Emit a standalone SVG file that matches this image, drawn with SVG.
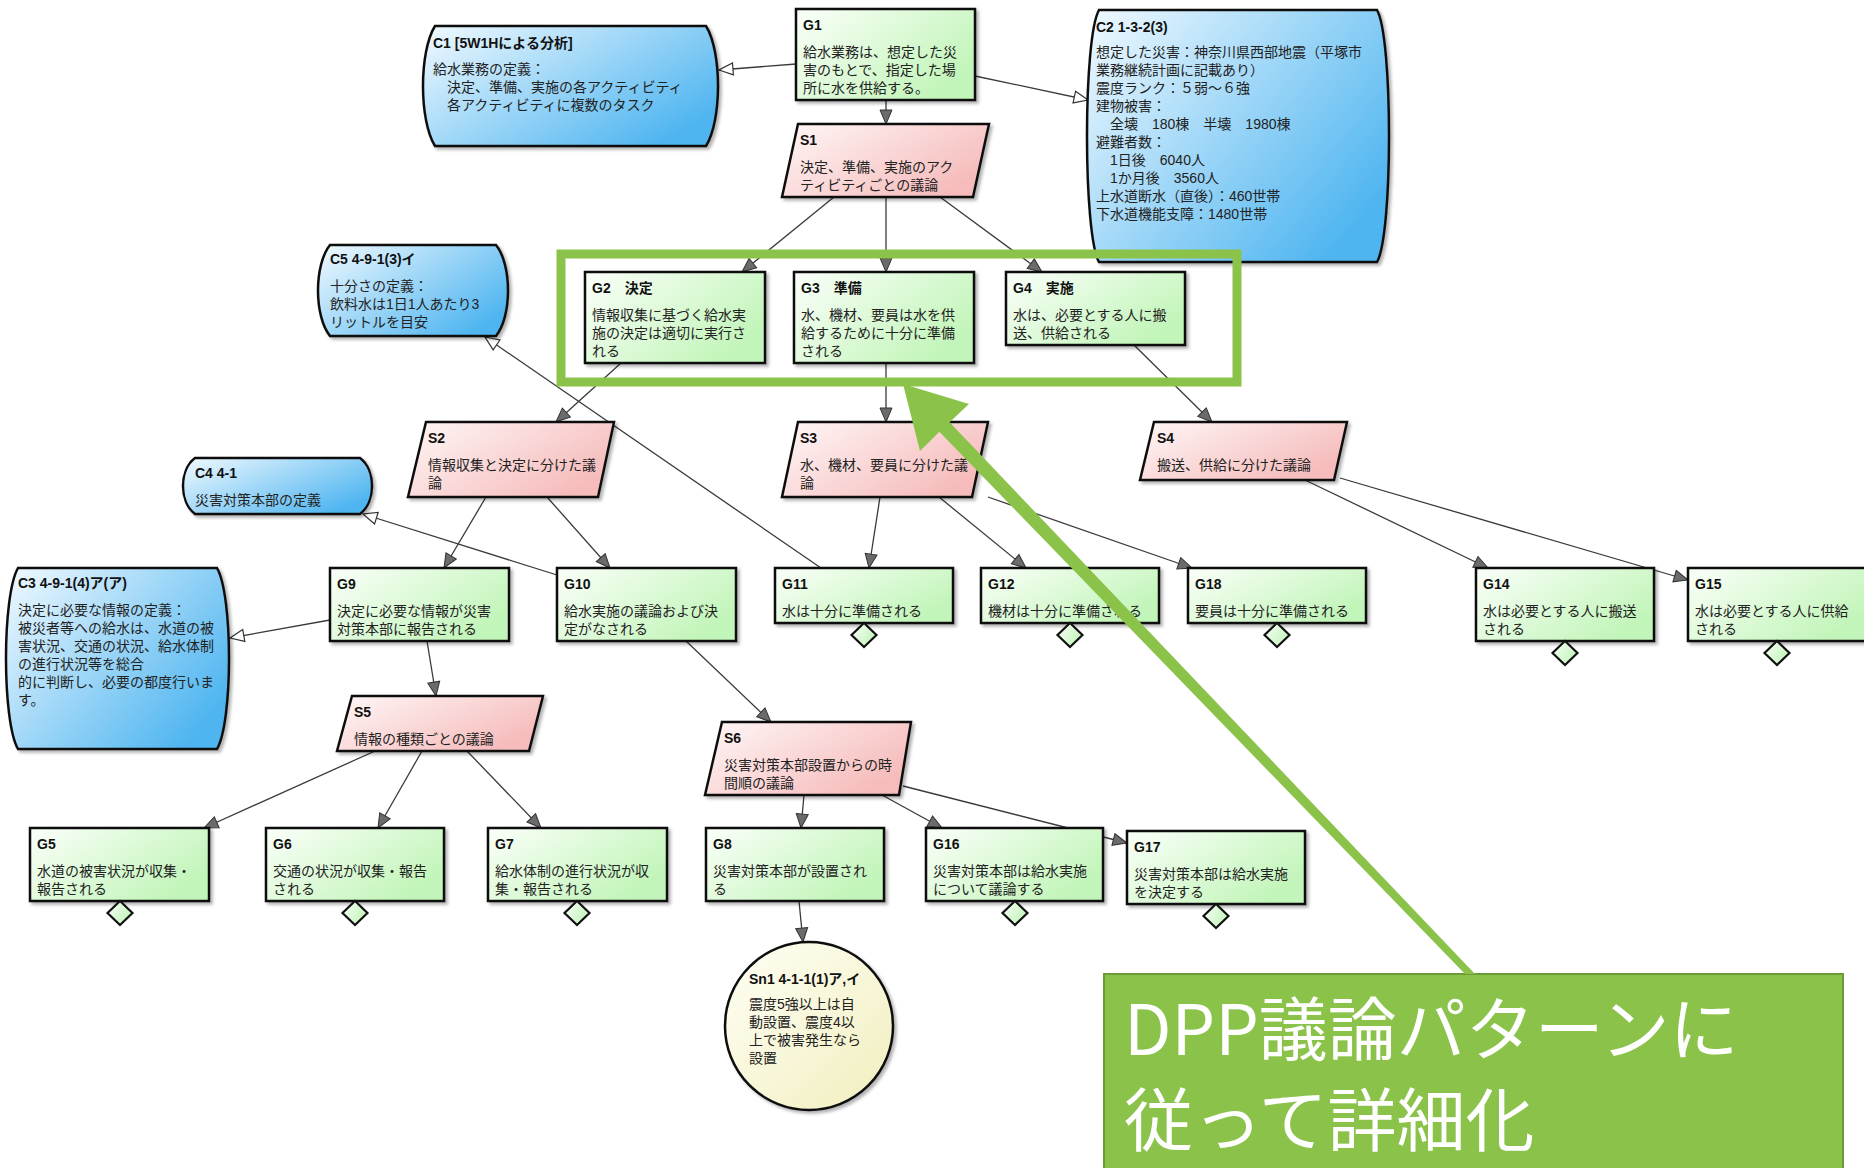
<svg xmlns="http://www.w3.org/2000/svg" width="1864" height="1168" viewBox="0 0 1864 1168">
<defs>
<style>
.t{font-family:'Liberation Sans','Noto Sans CJK JP',sans-serif;font-size:14px;fill:#222}
.id{font-weight:bold;fill:#111}
.g{fill:url(#gG);stroke:#111;stroke-width:2.5;filter:url(#sh)}
.s{fill:url(#gS);stroke:#111;stroke-width:2.5;filter:url(#sh)}
.c{fill:url(#gC);stroke:#111;stroke-width:2.5;filter:url(#sh)}
.sn{fill:url(#gSn);stroke:#111;stroke-width:2.5;filter:url(#sh)}
.d{fill:url(#gG);stroke:#111;stroke-width:2.2}
.ln{fill:none;stroke:#3a3a3a;stroke-width:1.3}
.sup{marker-end:url(#ah)}
.ctx{marker-end:url(#ahw)}
.big{font-family:'Noto Sans CJK JP',sans-serif;font-size:69px;fill:#fff}
</style>
<linearGradient id="gG" x1="0" y1="0" x2="1" y2="0.6"><stop offset="0" stop-color="#fbfffa"/><stop offset="1" stop-color="#c2f5b9"/></linearGradient>
<linearGradient id="gS" x1="0" y1="0" x2="1" y2="0.6"><stop offset="0" stop-color="#fff7f7"/><stop offset="1" stop-color="#f6bcbc"/></linearGradient>
<linearGradient id="gC" x1="0" y1="0" x2="1" y2="0.7"><stop offset="0" stop-color="#f2faff"/><stop offset="1" stop-color="#4fb5f0"/></linearGradient>
<linearGradient id="gSn" x1="0" y1="0" x2="1" y2="1"><stop offset="0" stop-color="#fffff6"/><stop offset="1" stop-color="#f1eebd"/></linearGradient>
<filter id="sh" x="-5%" y="-5%" width="112%" height="115%"><feDropShadow dx="2.5" dy="2.5" stdDeviation="1.5" flood-color="#000" flood-opacity="0.3"/></filter>
<marker id="ah" markerUnits="userSpaceOnUse" markerWidth="16" markerHeight="14" refX="14" refY="6" orient="auto" overflow="visible"><path d="M0,0 L14,6 L0,12 Z" fill="#6b6b6b" stroke="#333" stroke-width="1"/></marker>
<marker id="ahw" markerUnits="userSpaceOnUse" markerWidth="16" markerHeight="14" refX="14" refY="6" orient="auto" overflow="visible"><path d="M0,0 L14,6 L0,12 Z" fill="#fff" stroke="#333" stroke-width="1.2"/></marker>
</defs>
<rect width="1864" height="1168" fill="#fff"/>

<g id="connectors">
<line class="ln ctx" x1="796" y1="64" x2="719" y2="70"/>
<line class="ln ctx" x1="975" y1="76" x2="1088" y2="100"/>
<line class="ln sup" x1="886" y1="100" x2="886" y2="124"/>
<line class="ln sup" x1="834" y1="197" x2="742" y2="272"/>
<line class="ln sup" x1="886" y1="197" x2="886" y2="272"/>
<line class="ln sup" x1="940" y1="197" x2="1042" y2="272"/>
<line class="ln sup" x1="621" y1="363" x2="556" y2="422"/>
<line class="ln sup" x1="886" y1="363" x2="886" y2="422"/>
<line class="ln sup" x1="1134" y1="345" x2="1212" y2="422"/>
<line class="ln ctx" x1="821" y1="568" x2="485" y2="337"/>
<line class="ln ctx" x1="557" y1="575" x2="363" y2="514"/>
<line class="ln sup" x1="486" y1="497" x2="444" y2="568"/>
<line class="ln sup" x1="547" y1="497" x2="610" y2="568"/>
<line class="ln ctx" x1="330" y1="620" x2="230" y2="638"/>
<line class="ln sup" x1="427" y1="641" x2="436" y2="696"/>
<line class="ln sup" x1="686" y1="641" x2="771" y2="722"/>
<line class="ln sup" x1="880" y1="497" x2="869" y2="568"/>
<line class="ln sup" x1="939" y1="497" x2="1026" y2="568"/>
<line class="ln sup" x1="988" y1="497" x2="1192" y2="568"/>
<line class="ln sup" x1="1305" y1="480" x2="1488" y2="568"/>
<line class="ln sup" x1="1340" y1="478" x2="1688" y2="580"/>
<line class="ln sup" x1="375" y1="751" x2="204" y2="828"/>
<line class="ln sup" x1="422" y1="751" x2="378" y2="828"/>
<line class="ln sup" x1="467" y1="751" x2="541" y2="828"/>
<line class="ln sup" x1="804" y1="795" x2="801" y2="828"/>
<line class="ln sup" x1="882" y1="795" x2="942" y2="828"/>
<line class="ln sup" x1="903" y1="786" x2="1127" y2="843"/>
<line class="ln sup" x1="799" y1="901" x2="803" y2="942"/>
</g>

<g id="C1">
<path class="c" d="M435,26 H706 C722,52 722,120 706,146 H435 C419,120 419,52 435,26 Z"/>
<text class="t id" x="433" y="48">C1 [5W1Hによる分析]</text>
<text class="t" x="433" y="74">給水業務の定義：</text>
<text class="t" x="447" y="92">決定、準備、実施の各アクティビティ</text>
<text class="t" x="447" y="110">各アクティビティに複数のタスク</text>
</g>

<g id="G1">
<rect class="g" x="796" y="9" width="179" height="91"/>
<text class="t id" x="803" y="30">G1</text>
<text class="t" x="803" y="57">給水業務は、想定した災</text>
<text class="t" x="803" y="75">害のもとで、指定した場</text>
<text class="t" x="803" y="93">所に水を供給する。</text>
</g>

<g id="C2">
<path class="c" d="M1099,10 H1377 C1393,38 1393,234 1377,262 H1099 C1083,234 1083,38 1099,10 Z"/>
<text class="t id" x="1096" y="32">C2 1-3-2(3)</text>
<text class="t" x="1096" y="57">想定した災害：神奈川県西部地震（平塚市</text>
<text class="t" x="1096" y="75">業務継続計画に記載あり）</text>
<text class="t" x="1096" y="93">震度ランク：５弱～６強</text>
<text class="t" x="1096" y="111">建物被害：</text>
<text class="t" x="1110" y="129">全壊　180棟　半壊　1980棟</text>
<text class="t" x="1096" y="147">避難者数：</text>
<text class="t" x="1110" y="165">1日後　6040人</text>
<text class="t" x="1110" y="183">1か月後　3560人</text>
<text class="t" x="1096" y="201">上水道断水（直後）：460世帯</text>
<text class="t" x="1096" y="219">下水道機能支障：1480世帯</text>
</g>

<g id="S1">
<polygon class="s" points="798,124 989,124 973,197 782,197"/>
<text class="t id" x="800" y="145">S1</text>
<text class="t" x="800" y="172">決定、準備、実施のアク</text>
<text class="t" x="800" y="190">ティビティごとの議論</text>
</g>

<g id="C5">
<path class="c" d="M330,245 H496 C512,265 512,316 496,336 H330 C314,316 314,265 330,245 Z"/>
<text class="t id" x="330" y="264">C5 4-9-1(3)イ</text>
<text class="t" x="330" y="291">十分さの定義：</text>
<text class="t" x="330" y="309">飲料水は1日1人あたり3</text>
<text class="t" x="330" y="327">リットルを目安</text>
</g>

<g id="G2">
<rect class="g" x="585" y="272" width="180" height="91"/>
<text class="t id" x="592" y="293">G2　決定</text>
<text class="t" x="592" y="320">情報収集に基づく給水実</text>
<text class="t" x="592" y="338">施の決定は適切に実行さ</text>
<text class="t" x="592" y="356">れる</text>
</g>

<g id="G3">
<rect class="g" x="794" y="272" width="180" height="91"/>
<text class="t id" x="801" y="293">G3　準備</text>
<text class="t" x="801" y="320">水、機材、要員は水を供</text>
<text class="t" x="801" y="338">給するために十分に準備</text>
<text class="t" x="801" y="356">される</text>
</g>

<g id="G4">
<rect class="g" x="1006" y="272" width="179" height="73"/>
<text class="t id" x="1013" y="293">G4　実施</text>
<text class="t" x="1013" y="320">水は、必要とする人に搬</text>
<text class="t" x="1013" y="338">送、供給される</text>
</g>

<g id="S2">
<polygon class="s" points="426,422 614,422 598,497 408,497"/>
<text class="t id" x="428" y="443">S2</text>
<text class="t" x="428" y="470">情報収集と決定に分けた議</text>
<text class="t" x="428" y="488">論</text>
</g>

<g id="S3">
<polygon class="s" points="798,422 988,422 972,497 782,497"/>
<text class="t id" x="800" y="443">S3</text>
<text class="t" x="800" y="470">水、機材、要員に分けた議</text>
<text class="t" x="800" y="488">論</text>
</g>

<g id="S4">
<polygon class="s" points="1154,422 1347,422 1334,480 1140,480"/>
<text class="t id" x="1157" y="443">S4</text>
<text class="t" x="1157" y="470">搬送、供給に分けた議論</text>
</g>

<g id="C4">
<path class="c" d="M195,458 H360 C376,470 376,502 360,514 H195 C179,502 179,470 195,458 Z"/>
<text class="t id" x="195" y="478">C4 4-1</text>
<text class="t" x="195" y="505">災害対策本部の定義</text>
</g>

<g id="C3">
<path class="c" d="M18,568 H217 C233,596 233,721 217,749 H18 C2,721 2,596 18,568 Z"/>
<text class="t id" x="18" y="588">C3 4-9-1(4)ア(ア)</text>
<text class="t" x="18" y="615">決定に必要な情報の定義：</text>
<text class="t" x="18" y="633">被災者等への給水は、水道の被</text>
<text class="t" x="18" y="651">害状況、交通の状況、給水体制</text>
<text class="t" x="18" y="669">の進行状況等を総合</text>
<text class="t" x="18" y="687">的に判断し、必要の都度行いま</text>
<text class="t" x="18" y="705">す。</text>
</g>

<g id="G9">
<rect class="g" x="330" y="568" width="179" height="73"/>
<text class="t id" x="337" y="589">G9</text>
<text class="t" x="337" y="616">決定に必要な情報が災害</text>
<text class="t" x="337" y="634">対策本部に報告される</text>
</g>

<g id="G10">
<rect class="g" x="557" y="568" width="179" height="73"/>
<text class="t id" x="564" y="589">G10</text>
<text class="t" x="564" y="616">給水実施の議論および決</text>
<text class="t" x="564" y="634">定がなされる</text>
</g>

<g id="G11">
<rect class="g" x="775" y="568" width="178" height="55"/>
<text class="t id" x="782" y="589">G11</text>
<text class="t" x="782" y="616">水は十分に準備される</text>
<polygon class="d" points="864,623 876.5,635 864,647 851.5,635"/>
</g>

<g id="G12">
<rect class="g" x="981" y="568" width="178" height="55"/>
<text class="t id" x="988" y="589">G12</text>
<text class="t" x="988" y="616">機材は十分に準備される</text>
<polygon class="d" points="1070,623 1082.5,635 1070,647 1057.5,635"/>
</g>

<g id="G18">
<rect class="g" x="1188" y="568" width="178" height="55"/>
<text class="t id" x="1195" y="589">G18</text>
<text class="t" x="1195" y="616">要員は十分に準備される</text>
<polygon class="d" points="1277,623 1289.5,635 1277,647 1264.5,635"/>
</g>

<g id="G14">
<rect class="g" x="1476" y="568" width="178" height="73"/>
<text class="t id" x="1483" y="589">G14</text>
<text class="t" x="1483" y="616">水は必要とする人に搬送</text>
<text class="t" x="1483" y="634">される</text>
<polygon class="d" points="1565,641 1577.5,653 1565,665 1552.5,653"/>
</g>

<g id="G15">
<rect class="g" x="1688" y="568" width="180" height="73"/>
<text class="t id" x="1695" y="589">G15</text>
<text class="t" x="1695" y="616">水は必要とする人に供給</text>
<text class="t" x="1695" y="634">される</text>
<polygon class="d" points="1777,641 1789.5,653 1777,665 1764.5,653"/>
</g>

<g id="S5">
<polygon class="s" points="352,696 543,696 529,751 337,751"/>
<text class="t id" x="354" y="717">S5</text>
<text class="t" x="354" y="744">情報の種類ごとの議論</text>
</g>

<g id="S6">
<polygon class="s" points="722,722 911,722 899,795 705,795"/>
<text class="t id" x="724" y="743">S6</text>
<text class="t" x="724" y="770">災害対策本部設置からの時</text>
<text class="t" x="724" y="788">間順の議論</text>
</g>

<g id="G5">
<rect class="g" x="30" y="828" width="179" height="73"/>
<text class="t id" x="37" y="849">G5</text>
<text class="t" x="37" y="876">水道の被害状況が収集・</text>
<text class="t" x="37" y="894">報告される</text>
<polygon class="d" points="120,901 132.5,913 120,925 107.5,913"/>
</g>

<g id="G6">
<rect class="g" x="266" y="828" width="178" height="73"/>
<text class="t id" x="273" y="849">G6</text>
<text class="t" x="273" y="876">交通の状況が収集・報告</text>
<text class="t" x="273" y="894">される</text>
<polygon class="d" points="355,901 367.5,913 355,925 342.5,913"/>
</g>

<g id="G7">
<rect class="g" x="488" y="828" width="179" height="73"/>
<text class="t id" x="495" y="849">G7</text>
<text class="t" x="495" y="876">給水体制の進行状況が収</text>
<text class="t" x="495" y="894">集・報告される</text>
<polygon class="d" points="577,901 589.5,913 577,925 564.5,913"/>
</g>

<g id="G8">
<rect class="g" x="706" y="828" width="178" height="73"/>
<text class="t id" x="713" y="849">G8</text>
<text class="t" x="713" y="876">災害対策本部が設置され</text>
<text class="t" x="713" y="894">る</text>
</g>

<g id="G16">
<rect class="g" x="926" y="828" width="177" height="73"/>
<text class="t id" x="933" y="849">G16</text>
<text class="t" x="933" y="876">災害対策本部は給水実施</text>
<text class="t" x="933" y="894">について議論する</text>
<polygon class="d" points="1015,901 1027.5,913 1015,925 1002.5,913"/>
</g>

<g id="G17">
<rect class="g" x="1127" y="831" width="178" height="73"/>
<text class="t id" x="1134" y="852">G17</text>
<text class="t" x="1134" y="879">災害対策本部は給水実施</text>
<text class="t" x="1134" y="897">を決定する</text>
<polygon class="d" points="1216,904 1228.5,916 1216,928 1203.5,916"/>
</g>

<g id="Sn1">
<circle class="sn" cx="809" cy="1026" r="84"/>
<text class="t id" x="749" y="984">Sn1 4-1-1(1)ア,イ</text>
<text class="t" x="749" y="1009">震度5強以上は自</text>
<text class="t" x="749" y="1027">動設置、震度4以</text>
<text class="t" x="749" y="1045">上で被害発生なら</text>
<text class="t" x="749" y="1063">設置</text>
</g>

<g id="highlight">
<rect x="561" y="254" width="676" height="128" fill="none" stroke="#8bc34a" stroke-width="9"/>
</g>

<g id="callout">
<rect x="1104" y="974" width="739" height="200" fill="#8bc34a" stroke="#6c9a36" stroke-width="2"/>
<polygon points="903,384 969,404 949.6,422.2 1475,974 1465,974 939.4,431.8 920,451" fill="#8bc34a"/>
<text class="big" x="1124" y="1055">DPP議論パターンに</text>
<text class="big" x="1124" y="1146">従って詳細化</text>
</g>
</svg>
